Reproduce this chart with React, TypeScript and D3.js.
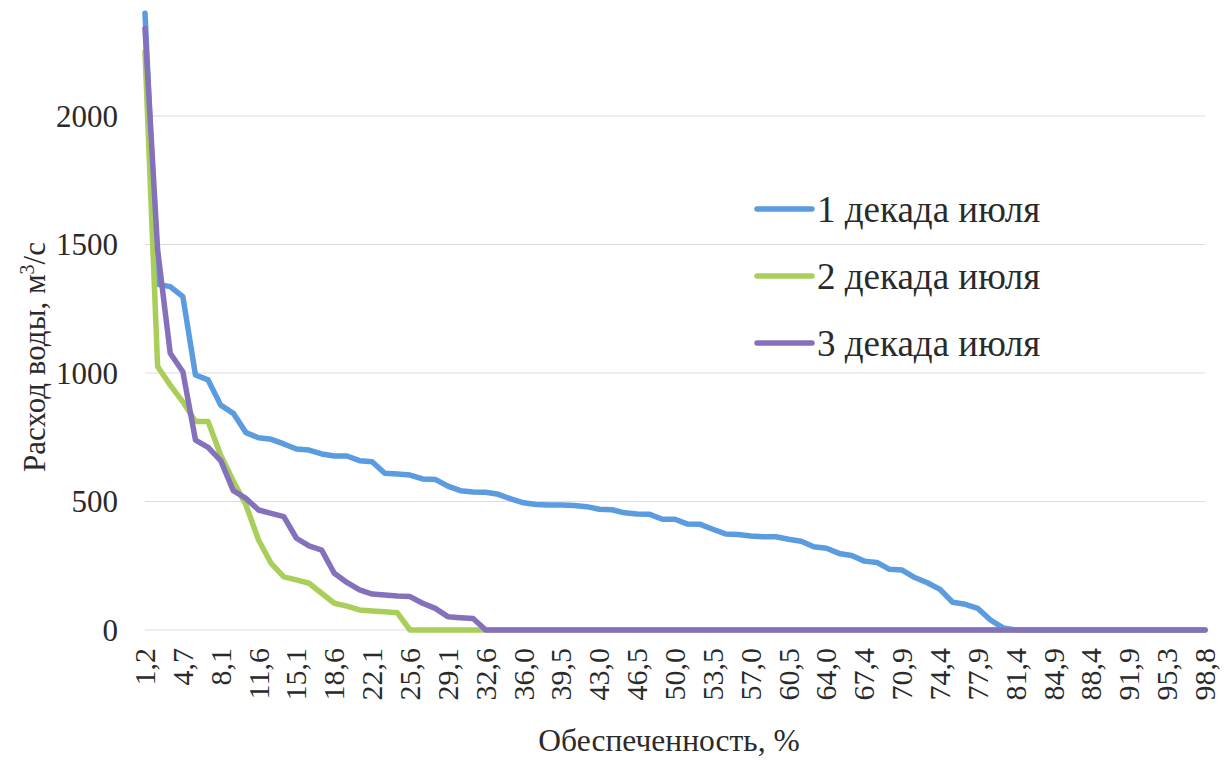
import React from "react";
import * as d3 from "d3";

const categories: string[] = [
  "1,2","2,3","3,5","4,7","5,8","7,0","8,1","9,3","10,5","11,6",
  "12,8","14,0","15,1","16,3","17,4","18,6","19,8","20,9","22,1","23,3",
  "24,4","25,6","26,7","27,9","29,1","30,2","31,4","32,6","33,7","34,9",
  "36,0","37,2","38,4","39,5","40,7","41,9","43,0","44,2","45,3","46,5",
  "47,7","48,8","50,0","51,2","52,3","53,5","54,7","55,8","57,0","58,1",
  "59,3","60,5","61,6","62,8","64,0","65,1","66,3","67,4","68,6","69,8",
  "70,9","72,1","73,3","74,4","75,6","76,7","77,9","79,1","80,2","81,4",
  "82,6","83,7","84,9","86,0","87,2","88,4","89,5","90,7","91,9","93,0",
  "94,2","95,3","96,5","97,7","98,8",
];

const decade1: number[] = [
  2400,1345,1336,1297,992,973,875,843,768,748,
  742,724,704,700,685,677,677,659,655,610,
  607,603,588,586,560,542,537,536,528,510,
  495,488,486,486,484,480,470,468,456,451,
  450,431,431,412,411,392,374,372,366,363,
  363,353,345,324,318,298,290,268,263,236,
  233,204,184,158,108,100,84,39,8,0,
  0,0,0,0,0,0,0,0,0,0,
  0,0,0,0,0,
];

const decade2: number[] = [
  2250,1025,953,888,811,811,680,580,486,350,
  259,207,195,182,143,104,93,78,74,71,
  67,0,0,0,0,0,0,0,0,0,
  0,0,0,0,0,0,0,0,0,0,
  0,0,0,0,0,0,0,0,0,0,
  0,0,0,0,0,0,0,0,0,0,
  0,0,0,0,0,0,0,0,0,0,
  0,0,0,0,0,0,0,0,0,0,
  0,0,0,0,0,
];

const decade3: number[] = [
  2340,1480,1077,1005,739,711,659,542,512,467,
  454,441,357,327,311,221,185,156,140,136,
  132,130,104,84,52,48,45,0,0,0,
  0,0,0,0,0,0,0,0,0,0,
  0,0,0,0,0,0,0,0,0,0,
  0,0,0,0,0,0,0,0,0,0,
  0,0,0,0,0,0,0,0,0,0,
  0,0,0,0,0,0,0,0,0,0,
  0,0,0,0,0,
];

const seriesNames: string[] = ["1 декада июля", "2 декада июля", "3 декада июля"];
const seriesColors: string[] = ["#5b9be0", "#a9cf5a", "#8571bb"];
const yTicks: number[] = [0, 500, 1000, 1500, 2000];
const xTitle = "Обеспеченность, %";

const W = 1230;
const H = 763;
const FONT = "'Liberation Serif', 'Times New Roman', Times, 'DejaVu Serif', serif";
const TEXT = "#2a2a2a";
const ts = { fontFamily: FONT };

export default function App() {
  const x = d3.scalePoint<string>().domain(categories).range([145, 1205]);
  const y = d3.scaleLinear().domain([0, 2500]).range([630, -12.5]);
  const allSeries = [decade1, decade2, decade3];
  const line = d3
    .line<number>()
    .x((_, i) => x(categories[i]) as number)
    .y((d) => y(d));
  const shownTicks = categories.filter((_, i) => i % 3 === 0);

  return (
    <svg
      width={W}
      height={H}
      style={{ position: "absolute", left: 0, top: 0, background: "#fff", fontFamily: FONT }}
    >
      <rect x={0} y={0} width={W} height={H} fill="#fff" />
      {yTicks.map((t) => (
        <line
          key={"g" + t}
          x1={145}
          x2={1205}
          y1={y(t)}
          y2={y(t)}
          stroke="#dcdcdc"
          strokeWidth={1}
        />
      ))}
      {yTicks.map((t) => (
        <text
          key={"yl" + t}
          x={118}
          y={y(t)}
          dy="0.35em"
          textAnchor="end"
          fontSize={31}
          fill={TEXT}
          style={ts}
        >
          {t}
        </text>
      ))}
      {shownTicks.map((c) => (
        <text
          key={"xl" + c}
          transform={`translate(${(x(c) as number) + 10},648) rotate(-90)`}
          textAnchor="end"
          fontSize={30}
          fill={TEXT}
          style={ts}
        >
          {c}
        </text>
      ))}
      {allSeries.map((s, k) => (
        <path
          key={"s" + k}
          d={line(s) || ""}
          fill="none"
          stroke={seriesColors[k]}
          strokeWidth={5.5}
          strokeLinejoin="round"
          strokeLinecap="round"
        />
      ))}
      {seriesNames.map((n, k) => (
        <g key={"lg" + k} transform={`translate(757,${209 + k * 67})`}>
          <line x1={0} x2={55} y1={0} y2={0} stroke={seriesColors[k]} strokeWidth={5.5} strokeLinecap="round" />
          <text x={60} y={13} fontSize={37} fill={TEXT} style={ts}>
            {n}
          </text>
        </g>
      ))}
      <text x={669} y={751} textAnchor="middle" fontSize={31.5} fill={TEXT} style={ts}>
        {xTitle}
      </text>
      <text
        transform="translate(45,357) rotate(-90)"
        textAnchor="middle"
        fontSize={31}
        fill={TEXT}
        style={ts}
      >
        Расход воды, м<tspan dy={-11} fontSize={20}>3</tspan>
        <tspan dy={11}>/с</tspan>
      </text>
    </svg>
  );
}
